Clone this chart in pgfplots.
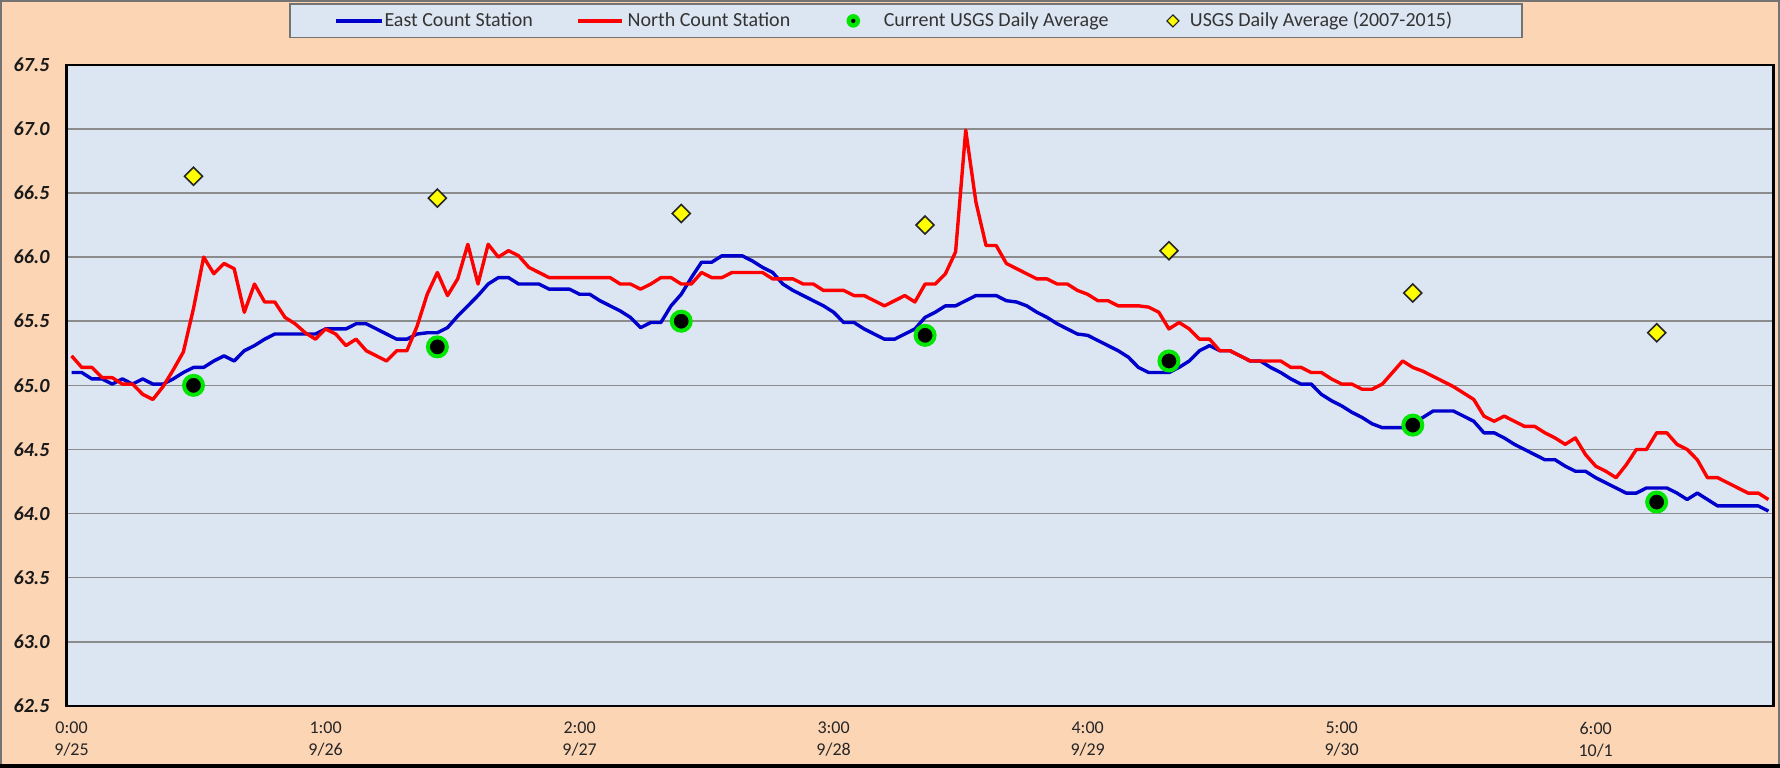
\documentclass[border=0pt]{standalone}
\usepackage{pgfplots}
\usepackage{pgfplotstable}
\pgfplotsset{compat=1.18}
\usepackage{fontspec}
\setmainfont{Carlito}
\definecolor{bgpeach}{RGB}{252,213,181}
\definecolor{plotbg}{RGB}{220,230,242}
\definecolor{eastblue}{RGB}{0,0,204}
\definecolor{northred}{RGB}{255,0,0}
\definecolor{markgreen}{RGB}{0,230,0}
\definecolor{diayellow}{RGB}{255,255,0}
\definecolor{gridgray}{RGB}{140,140,140}

\pgfplotstableread{
h east north
0 65.10 65.23
1 65.10 65.14
2 65.05 65.14
3 65.05 65.06
4 65.01 65.06
5 65.05 65.01
6 65.01 65.01
7 65.05 64.93
8 65.01 64.89
9 65.01 64.99
10 65.05 65.12
11 65.10 65.26
12 65.14 65.60
13 65.14 66.00
14 65.19 65.87
15 65.23 65.95
16 65.19 65.91
17 65.27 65.57
18 65.31 65.79
19 65.36 65.65
20 65.40 65.65
21 65.40 65.53
22 65.40 65.48
23 65.40 65.41
24 65.40 65.36
25 65.44 65.44
26 65.44 65.40
27 65.44 65.31
28 65.48 65.36
29 65.48 65.27
30 65.44 65.23
31 65.40 65.19
32 65.36 65.27
33 65.36 65.27
34 65.40 65.46
35 65.41 65.71
36 65.41 65.88
37 65.45 65.70
38 65.54 65.83
39 65.62 66.10
40 65.70 65.79
41 65.79 66.10
42 65.84 66.00
43 65.84 66.05
44 65.79 66.01
45 65.79 65.92
46 65.79 65.88
47 65.75 65.84
48 65.75 65.84
49 65.75 65.84
50 65.71 65.84
51 65.71 65.84
52 65.66 65.84
53 65.62 65.84
54 65.58 65.79
55 65.53 65.79
56 65.45 65.75
57 65.49 65.79
58 65.49 65.84
59 65.62 65.84
60 65.71 65.79
61 65.84 65.79
62 65.96 65.88
63 65.96 65.84
64 66.01 65.84
65 66.01 65.88
66 66.01 65.88
67 65.97 65.88
68 65.92 65.88
69 65.88 65.83
70 65.79 65.83
71 65.74 65.83
72 65.70 65.79
73 65.66 65.79
74 65.62 65.74
75 65.57 65.74
76 65.49 65.74
77 65.49 65.70
78 65.44 65.70
79 65.40 65.66
80 65.36 65.62
81 65.36 65.66
82 65.40 65.70
83 65.44 65.65
84 65.53 65.79
85 65.57 65.79
86 65.62 65.87
87 65.62 66.04
88 65.66 66.99
89 65.70 66.43
90 65.70 66.09
91 65.70 66.09
92 65.66 65.95
93 65.65 65.91
94 65.62 65.87
95 65.57 65.83
96 65.53 65.83
97 65.48 65.79
98 65.44 65.79
99 65.40 65.74
100 65.39 65.71
101 65.35 65.66
102 65.31 65.66
103 65.27 65.62
104 65.22 65.62
105 65.14 65.62
106 65.10 65.61
107 65.10 65.57
108 65.10 65.44
109 65.14 65.49
110 65.19 65.44
111 65.27 65.36
112 65.31 65.36
113 65.27 65.27
114 65.27 65.27
115 65.23 65.23
116 65.19 65.19
117 65.19 65.19
118 65.14 65.19
119 65.10 65.19
120 65.05 65.14
121 65.01 65.14
122 65.01 65.10
123 64.93 65.10
124 64.88 65.05
125 64.84 65.01
126 64.79 65.01
127 64.75 64.97
128 64.70 64.97
129 64.67 65.01
130 64.67 65.10
131 64.67 65.19
132 64.70 65.14
133 64.75 65.11
134 64.80 65.07
135 64.80 65.03
136 64.80 64.99
137 64.76 64.94
138 64.72 64.89
139 64.63 64.76
140 64.63 64.72
141 64.59 64.76
142 64.54 64.72
143 64.50 64.68
144 64.46 64.68
145 64.42 64.63
146 64.42 64.59
147 64.37 64.54
148 64.33 64.59
149 64.33 64.46
150 64.28 64.37
151 64.24 64.33
152 64.20 64.28
153 64.16 64.38
154 64.16 64.50
155 64.20 64.50
156 64.20 64.63
157 64.20 64.63
158 64.16 64.54
159 64.11 64.50
160 64.16 64.42
161 64.11 64.28
162 64.06 64.28
163 64.06 64.24
164 64.06 64.20
165 64.06 64.16
166 64.06 64.16
167 64.02 64.11
}\hourly

\pgfplotstableread{
h cur hist
12 65.00 66.63
36 65.30 66.46
60 65.50 66.34
84 65.39 66.25
108 65.19 66.05
132 64.69 65.72
156 64.09 65.41
}\daily

\begin{document}
\begin{tikzpicture}
\fill[bgpeach] (0,0) rectangle (890bp,384bp);
\begin{axis}[
  at={(33.25bp,31bp)}, anchor=south west,
  scale only axis, width=853.5bp, height=320.65bp,
  xmin=-0.5, xmax=167.5, ymin=62.5, ymax=67.5,
  axis background/.style={fill=plotbg},
  ytick={62.5,63,63.5,64,64.5,65,65.5,66,66.5,67,67.5},
  yticklabels={62.5,63.0,63.5,64.0,64.5,65.0,65.5,66.0,66.5,67.0,67.5},
  xtick={0,25,50,75,100,125,150},
  xticklabels={{0:00\\9/25},{1:00\\9/26},{2:00\\9/27},{3:00\\9/28},{4:00\\9/29},{5:00\\9/30},{6:00\\10/1}},
  xticklabel style={align=center, font=\fontsize{9bp}{11bp}\selectfont, text=black!85, yshift=-4.5bp},
  yticklabel style={font=\fontsize{10bp}{12bp}\selectfont\bfseries\itshape, text=black!90, xshift=-5bp},
  tick style={draw=none},
  major tick length=0pt,
  ymajorgrids, grid style={gridgray, line width=0.75bp},
  axis line style={black, line width=1.2bp},
  legend columns=4,
  legend cell align=left,
  legend style={at={(axis description cs:0.1303,1.0958)}, anchor=north west,
    fill=plotbg, draw=black!55, line width=0.8bp,
    inner xsep=22bp, inner ysep=4bp,
    font=\fontsize{10bp}{12bp}\selectfont,
    nodes={inner sep=0pt, text=black!80},
    /tikz/every even column/.append style={column sep=21.75bp}},
]
\addplot[eastblue, line width=1.7bp, line join=round, no marks,
  legend image code/.code={\path[draw=none, fill=none] (0,-3bp) rectangle (25bp,3bp);
    \draw[eastblue, line width=1.8bp] (0.5bp,0) -- (23.5bp,0);}]
  table[x=h, y=east] {\hourly};
\addlegendentry{East Count Station}
\addplot[northred, line width=1.7bp, line join=round, no marks,
  legend image code/.code={\path[draw=none, fill=none] (0,-3bp) rectangle (25bp,3bp);
    \draw[northred, line width=1.8bp] (0.25bp,0) -- (22.35bp,0);}]
  table[x=h, y=north] {\hourly};
\addlegendentry{North Count Station}
\addplot[only marks, mark=*, mark size=4.75bp,
  mark options={fill=black, draw=markgreen, line width=2bp},
  legend image code/.code={\path[draw=none, fill=none] (0,-3bp) rectangle (25bp,3bp);
    \fill[markgreen, draw=none] (9.75bp,0) circle (3.4bp);
    \fill[black, draw=none] (9.75bp,0) circle (1.1bp);}]
  table[x=h, y=cur] {\daily};
\addlegendentry{Current USGS Daily Average}
\addplot[only marks, mark=square*, mark size=3.18bp,
  mark options={rotate=45, fill=diayellow, draw=black!85, line width=0.8bp},
  legend image code/.code={\path[draw=none, fill=none] (6bp,-3bp) rectangle (25bp,3bp);
    \filldraw[fill=diayellow, draw=black!85, line width=0.6bp] (16.5bp,-3bp) -- (19.5bp,0) -- (16.5bp,3bp) -- (13.5bp,0) -- cycle;}]
  table[x=h, y=hist] {\daily};
\addlegendentry{USGS Daily Average (2007-2015)\rule{13bp}{0pt}}
\end{axis}
\draw[black!55, line width=0.8bp] (0.4bp,0.4bp) rectangle (889.6bp,383.6bp);
\fill[black] (0,0) rectangle (890bp,2bp);
\pgfresetboundingbox
\useasboundingbox (0,0) rectangle (890bp,384bp);
\end{tikzpicture}
\end{document}
